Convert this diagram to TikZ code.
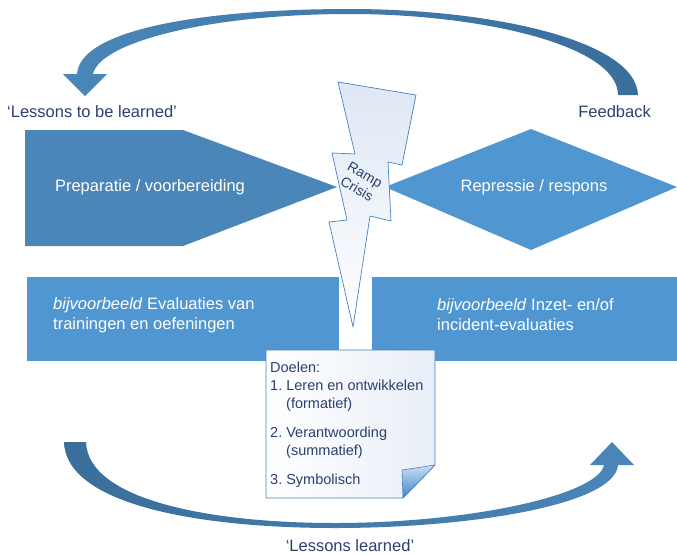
\documentclass[tikz,border=0pt]{standalone}
\usepackage{fontspec}
\setmainfont{Liberation Sans}
\definecolor{darkblue}{RGB}{74,134,184}
\definecolor{midblue}{RGB}{80,151,210}
\definecolor{navy}{RGB}{43,64,112}
\definecolor{arrowdark}{RGB}{58,110,155}
\definecolor{arrowlight}{RGB}{205,212,222}
\definecolor{boltline}{RGB}{70,130,190}
\definecolor{boltfill}{RGB}{222,231,244}
\definecolor{flapdark}{RGB}{62,134,200}
\definecolor{flaplight}{RGB}{205,222,242}
\begin{document}
\begin{tikzpicture}[x=1pt,y=-1pt,line join=round,
  lbl/.style={text=navy,font=\fontsize{16.5}{19}\selectfont,inner sep=0pt},
  wlbl/.style={text=white,font=\fontsize{16.5}{20}\selectfont,inner sep=0pt,align=left},
  doel/.style={text=navy,font=\fontsize{14.5}{17}\selectfont,inner sep=0pt,anchor=base west}]
\useasboundingbox (0,0) rectangle (677,555);
% feedback arrow
\shade[left color=darkblue,middle color=arrowlight,right color=arrowdark]
  (638,95) .. controls (636,40) and (490,9) .. (350,9)
  .. controls (200,9) and (80,30) .. (77,74) -- (63,74) -- (85,96) -- (107,74) -- (93,74)
  .. controls (100,42) and (210,14) .. (350,14)
  .. controls (480,14) and (618,45) .. (618,95) -- cycle;
% lessons learned arrow
\shade[left color=arrowdark,middle color=arrowlight,right color=darkblue]
  (64,442) .. controls (66,505) and (200,528) .. (335,528)
  .. controls (470,528) and (615,505) .. (618,465) -- (634,465) -- (612,442) -- (590,465) -- (604,465)
  .. controls (598,495) and (470,523) .. (335,523)
  .. controls (210,523) and (88,500) .. (86,442) -- cycle;
% phases
\fill[darkblue] (25,130) -- (183,130) -- (337,187) -- (183,246) -- (25,246) -- cycle;
\fill[midblue] (385,187) -- (531,129) -- (677,187) -- (531,250) -- cycle;
\node[wlbl] (prep) at (150,187) {Preparatie / voorbereiding};
\node[wlbl] (repr) at (534,187) {Repressie / respons};
% examples
\fill[midblue] (27,277) rectangle (339,361);
\fill[midblue] (372,277) rectangle (677,361);
\node[wlbl,anchor=west] (evaltrain) at (53,315) {\textit{bijvoorbeeld} Evaluaties van\\trainingen en oefeningen};
\node[wlbl,anchor=west] (evalinzet) at (437,315) {\textit{bijvoorbeeld} Inzet- en/of\\incident-evaluaties};
% bolt
\path[draw=boltline,line width=0.7pt,top color=boltfill,bottom color=white]
  (338,82) -- (416,95) -- (402,165) -- (388,162) -- (391,221) -- (370,216) -- (353,327)
  -- (329,222) -- (347,220) -- (332,153) -- (355,154) -- cycle;
\node[text=navy,font=\fontsize{14}{16}\selectfont,rotate=-30,align=center,inner sep=0pt] (ramp) at (361,182) {Ramp\\Crisis};
% note
\path[draw=boltline,line width=0.6pt,left color=white,right color=boltfill!70!white]
  (266,350) -- (435,350) -- (435,465) -- (403,498) -- (266,498) -- cycle;
\path[draw=boltline,line width=0.6pt,top color=flaplight,bottom color=flapdark]
  (402,470) -- (435,465) -- (403,498) -- cycle;
\node[doel] (doelen) at (270,372) {Doelen:};
\node[doel] (leren) at (270,390) {1.\ Leren en ontwikkelen};
\node[doel] (form) at (286,408) {(formatief)};
\node[doel] (verant) at (270,437) {2.\ Verantwoording};
\node[doel] (summ) at (286,455) {(summatief)};
\node[doel] (symb) at (270,484) {3.\ Symbolisch};
% labels
\node[lbl,anchor=base west] (tobelearned) at (7,117) {‘Lessons to be learned’};
\node[lbl,anchor=base east] (feedback) at (651,117) {Feedback};
\node[lbl,anchor=base] (learned) at (350,551) {‘Lessons learned’};
\end{tikzpicture}
\end{document}
